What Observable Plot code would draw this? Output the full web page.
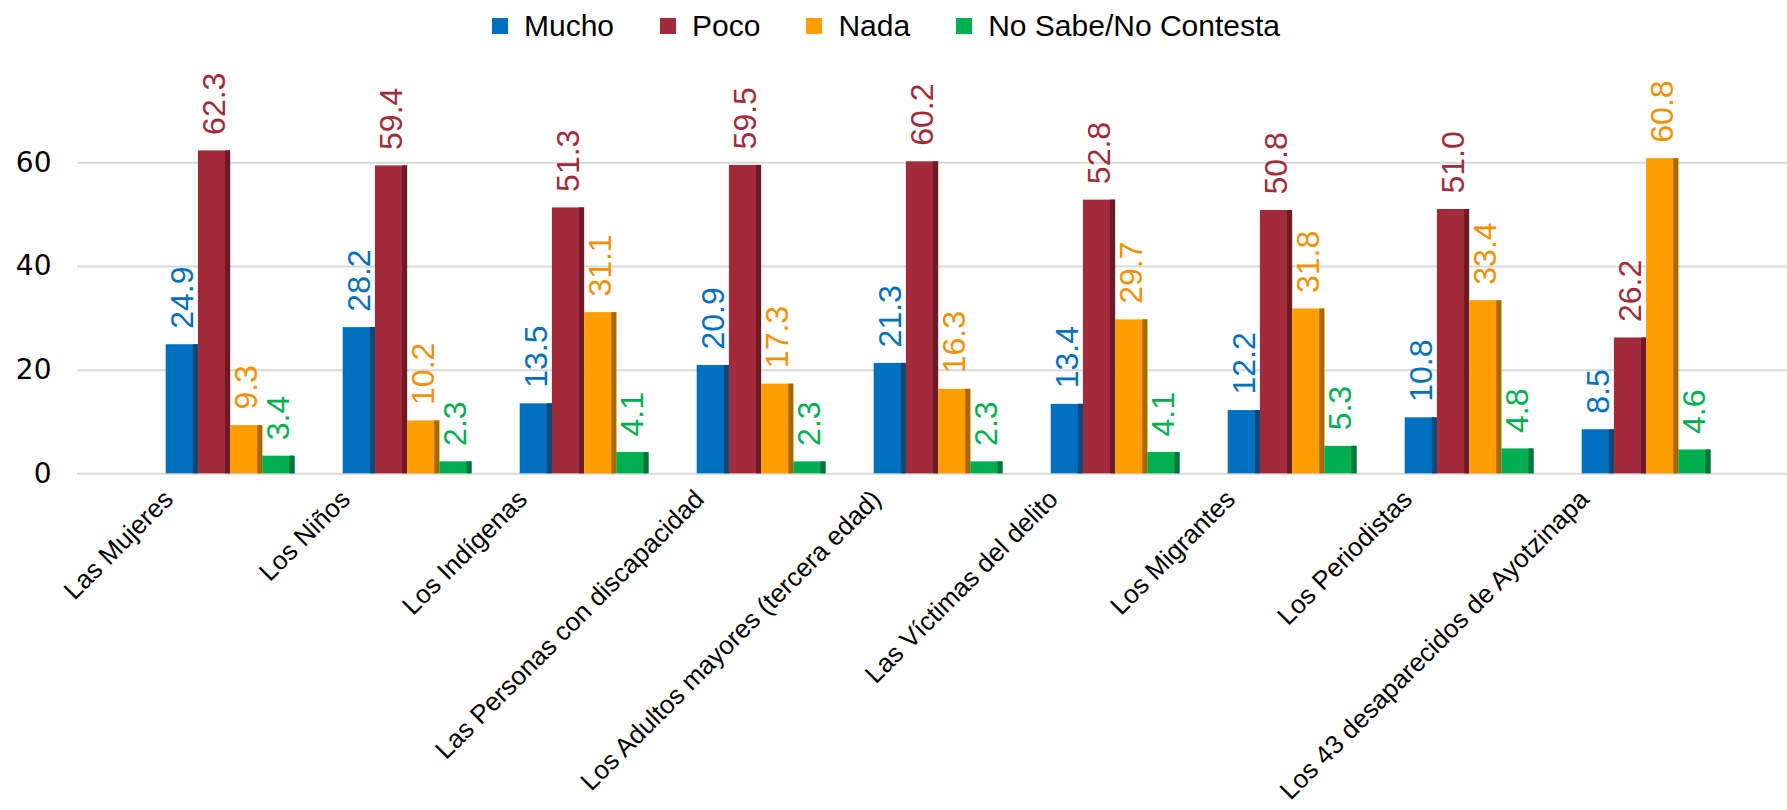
<!DOCTYPE html>
<html><head><meta charset="utf-8">
<script src="https://cdn.jsdelivr.net/npm/d3@7"></script>
<script src="https://cdn.jsdelivr.net/npm/@observablehq/plot@0.6"></script>
<style>
body{margin:0;background:#fff;width:1787px;height:810px;overflow:hidden;font-family:"Liberation Sans",Arial,sans-serif;}
#legend{height:52px;display:flex;justify-content:center;align-items:center;padding-right:15px;box-sizing:border-box;}
.item{display:flex;align-items:center;margin-right:46px;font-size:30px;color:#000;line-height:1;}
.item:last-child{margin-right:0}
.sw{width:16px;height:16px;margin-right:16px;flex:none;}
#chart{position:relative;width:1787px;height:758px;}
#chart svg{position:absolute;left:0;top:0;}
</style></head><body>
<div id="legend"></div><div id="chart"></div>
<script>
const categories = ["Las Mujeres","Los Niños","Los Indígenas","Las Personas con discapacidad","Los Adultos mayores (tercera edad)","Las Víctimas del delito","Los Migrantes","Los Periodistas","Los 43 desaparecidos de Ayotzinapa"];
const series = ["Mucho","Poco","Nada","No Sabe/No Contesta"];
const mucho = [24.9, 28.2, 13.5, 20.9, 21.3, 13.4, 12.2, 10.8, 8.5];
const poco  = [62.3, 59.4, 51.3, 59.5, 60.2, 52.8, 50.8, 51.0, 26.2];
const nada  = [9.3, 10.2, 31.1, 17.3, 16.3, 29.7, 31.8, 33.4, 60.8];
const nsnc  = [3.4, 2.3, 4.1, 2.3, 2.3, 4.1, 5.3, 4.8, 4.6];
const yTicks = [0, 20, 40, 60];
const yDomain = [0, 70];

const barColors   = ["#0070C0", "#A32A3A", "#FF9E00", "#00B050"];
const shadeColors = ["#0B4777", "#6B1B25", "#A86800", "#00733A"];
const labelColors = ["#0070C0", "#A32A3A", "#F39000", "#00B050"];

const valuesBySeries = [mucho, poco, nada, nsnc];
const rows = categories.flatMap((c, i) => series.map((s, j) => ({category: c, series: s, value: valuesBySeries[j][i], j})));

// legend
const legend = document.getElementById("legend");
series.forEach((s, j) => {
  const it = document.createElement("div"); it.className = "item";
  const sw = document.createElement("div"); sw.className = "sw"; sw.style.background = barColors[j];
  const t = document.createElement("span"); t.textContent = s;
  it.appendChild(sw); it.appendChild(t); legend.appendChild(it);
});

const W = 1787, H = 758, MT = 58.5, MB = 336.7;
const FML = 141.6, FMR = 52.4;
const facetW = (W - FML - FMR) / categories.length;
const padOuter = 0.748;
const barW = facetW / (series.length + 2 * padOuter);
const shadeW = 5;

const bg = Plot.plot({
  width: W, height: H, marginTop: MT, marginBottom: MB, marginLeft: 77, marginRight: 0,
  style: {fontFamily: '"DejaVu Sans", sans-serif', fontSize: "28px", color: "#000", background: "transparent"},
  y: {domain: yDomain, ticks: yTicks, tickSize: 0, tickPadding: 26, label: null, tickFormat: d => String(d)},
  marks: [Plot.ruleY(yTicks, {stroke: "#D9D9D9", strokeWidth: 2})]
});

const marks = [];
series.forEach((s, j) => {
  const data = rows.filter(r => r.j === j);
  marks.push(Plot.barY(data, {fx: "category", x: "series", y: "value", fill: barColors[j]}));
  marks.push(Plot.barY(data, {fx: "category", x: "series", y: "value", fill: shadeColors[j], insetLeft: barW - shadeW}));
  marks.push(Plot.text(data, {fx: "category", x: "series", y: "value", text: d => d.value.toFixed(1), rotate: -90, textAnchor: "start", dy: -16, fill: labelColors[j], fontSize: 32}));
});
marks.push(Plot.text(categories, {fx: d => d, text: d => d, frameAnchor: "bottom", rotate: -45, textAnchor: "end", lineAnchor: "bottom", dx: -56, dy: 27, fontSize: 26, fill: "#000"}));

const fg = Plot.plot({
  width: W, height: H, marginTop: MT, marginBottom: MB, marginLeft: FML, marginRight: FMR,
  style: {background: "transparent", fontFamily: '"Liberation Sans", Arial, sans-serif', overflow: "visible"},
  fx: {domain: categories, padding: 0, axis: null, round: false, label: null},
  x: {domain: series, paddingInner: 0, paddingOuter: padOuter, axis: null, round: false},
  y: {domain: yDomain, axis: null},
  marks
});

const chart = document.getElementById("chart");
chart.appendChild(bg);
chart.appendChild(fg);
</script>
</body></html>
